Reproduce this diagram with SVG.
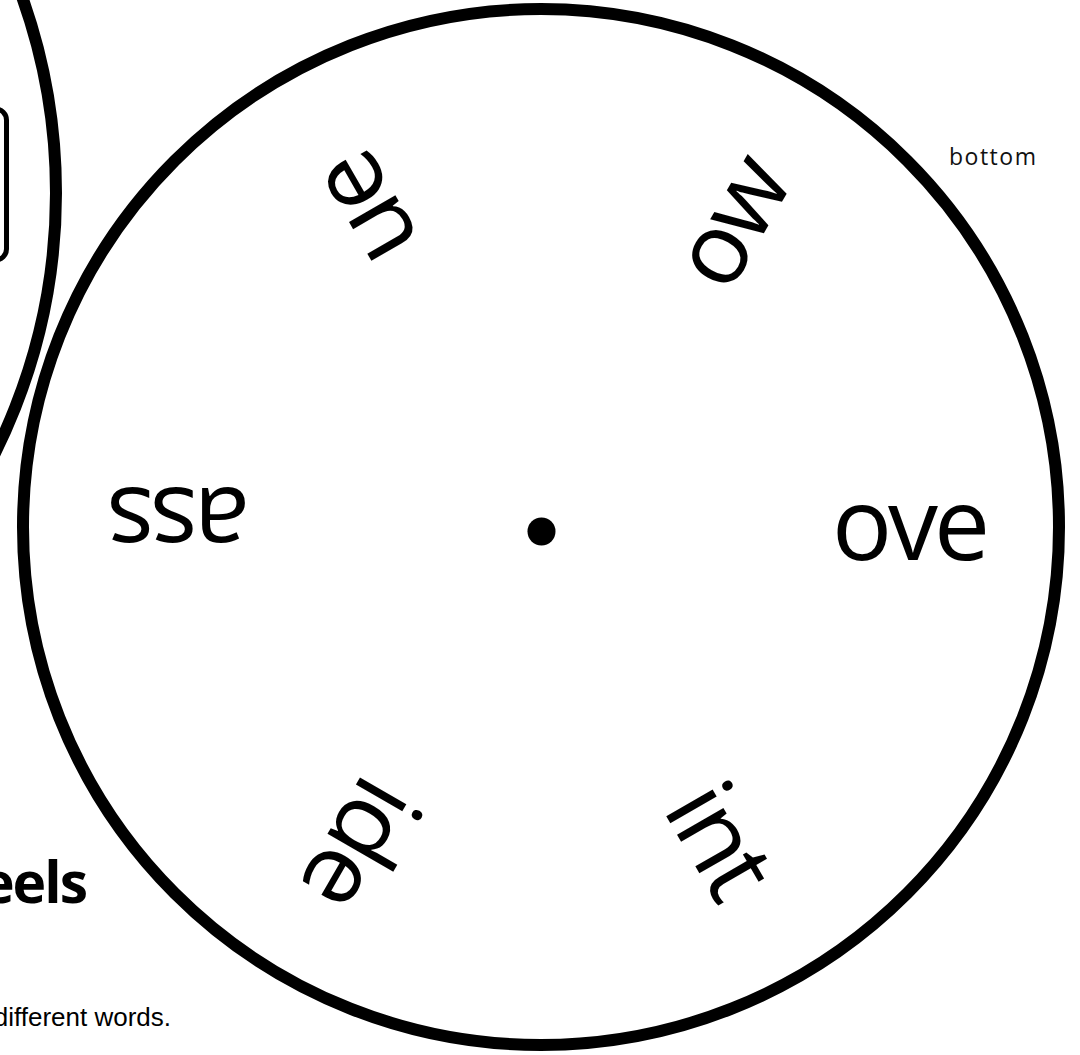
<svg xmlns="http://www.w3.org/2000/svg" width="1080" height="1055" viewBox="0 0 1080 1055">
  <style>
    .ring { fill: none; stroke: #000; stroke-width: 12; }
    .word { font-family: "Open Sans", "Noto Sans", sans-serif; font-size: 100px; fill: #000; text-anchor: middle; letter-spacing: -4px; }
    .small { font-family: "Open Sans", "Noto Sans", sans-serif; font-size: 23px; fill: #111; letter-spacing: 1.5px; }
    .title { font-family: "Open Sans", "Noto Sans", sans-serif; font-size: 57px; font-weight: bold; fill: #000; text-anchor: end; letter-spacing: -2px; }
    .note { font-family: "Liberation Sans", Arial, sans-serif; font-size: 26px; fill: #000; text-anchor: end; }
  </style>
  <rect x="0" y="0" width="1080" height="1055" fill="#fff"/>

  <g id="left-wheel">
    <circle class="ring" cx="-528" cy="193" r="584"/>
    <rect x="-60" y="109" width="66.5" height="151" rx="11" ry="11" fill="none" stroke="#000" stroke-width="5"/>
  </g>

  <g id="title">
    <text class="title" x="86" y="903">eels</text>
  </g>
  <g id="instruction">
    <text class="note" x="171" y="1026">different words.</text>
  </g>

  <g id="wheel">
    <circle class="ring" cx="541" cy="527" r="518"/>
    <circle cx="541.5" cy="531.5" r="14" fill="#000"/>
  </g>

  <g id="label-bottom">
    <text class="small" x="949" y="165">bottom</text>
  </g>

  <g id="word-ove" transform="translate(909,533) rotate(0)"><text class="word" x="0" y="27">ove</text></g>
  <g id="word-int" transform="translate(713,843) rotate(60)"><text class="word" x="0" y="27">int</text></g>
  <g id="word-ide" transform="translate(355,840) rotate(120)"><text class="word" x="0" y="27">ide</text></g>
  <g id="word-ass" transform="translate(180,515) rotate(180)"><text class="word" x="0" y="27">ass</text></g>
  <g id="word-ue" transform="translate(371,207) rotate(240)"><text class="word" x="0" y="27">ue</text></g>
  <g id="word-ow" transform="translate(737,226) rotate(300)"><text class="word" x="0" y="27">ow</text></g>

  <g id="connectors"></g>
</svg>
